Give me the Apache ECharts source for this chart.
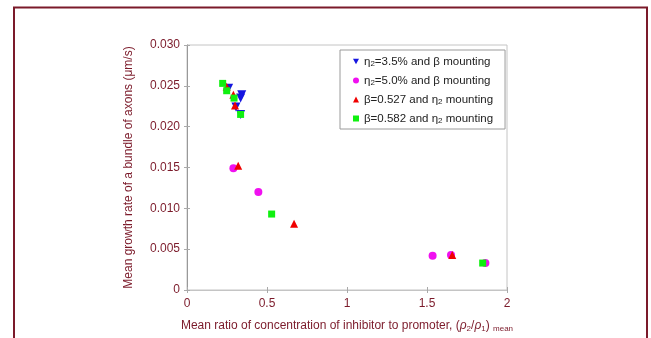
<!DOCTYPE html>
<html>
<head>
<meta charset="utf-8">
<script src="https://cdn.jsdelivr.net/npm/echarts@6/dist/echarts.min.js"></script>
<style>
  html, body { margin: 0; padding: 0; background: #fff; }
  #chart { width: 651px; height: 338px; }
</style>
</head>
<body>
<div id="chart"></div>
<script>
// values: [ratio, growth rate]
var eta35 = [[0.26, 0.0247], [0.342, 0.0239], [0.335, 0.0235], [0.306, 0.0224], [0.335, 0.0215]];
var eta50 = [[0.29, 0.0149], [0.446, 0.0120], [1.535, 0.0042], [1.65, 0.0043], [1.865, 0.0033]];
var beta527 = [[0.248, 0.0249], [0.29, 0.0239], [0.30, 0.0226], [0.32, 0.0152], [0.669, 0.0081], [1.658, 0.0043]];
var beta582 = [[0.223, 0.0253], [0.248, 0.0244], [0.294, 0.0235], [0.335, 0.0215], [0.529, 0.0093], [1.848, 0.0033]];

var seriesNames = ['eta35', 'eta50', 'beta527', 'beta582'];
var legendText = {
  eta35: '{t|η}{s|2}{t|=3.5% and β mounting}',
  eta50: '{t|η}{s|2}{t|=5.0% and β mounting}',
  beta527: '{t|β=0.527 and η}{s|2}{t| mounting}',
  beta582: '{t|β=0.582 and η}{s|2}{t| mounting}'
};

var red = '#7b1a2a';
var font = 'Liberation Sans, Arial, sans-serif';
var downTri = 'path://M0,0 L10,0 L5,9 Z';

var chart = echarts.init(document.getElementById('chart'));

var sc = function (name, data, symbol, color, size) {
  return {
    name: name, type: 'scatter', data: data,
    symbol: symbol, symbolSize: size,
    itemStyle: { color: color, opacity: 1 },
    xAxisIndex: 0, yAxisIndex: 0
  };
};

chart.setOption({
  animation: false,
  graphic: [{
    type: 'rect', shape: { x: 14, y: 7.5, width: 633, height: 340 },
    style: { fill: 'none', stroke: red, lineWidth: 2 }
  }],
  grid: { left: 187, right: 144, top: 45, bottom: 43, show: true, borderColor: '#c4c4c4', borderWidth: 1 },
  legend: {
    data: seriesNames,
    orient: 'vertical', left: 340, top: 50,
    padding: [5, 12, 4, 13],
    itemWidth: 6, itemHeight: 6, itemGap: 6,
    borderColor: '#9a9a9a', borderWidth: 1,
    formatter: function (n) { return legendText[n]; },
    textStyle: {
      rich: {
        t: { fontFamily: font, fontSize: 11.5, color: '#222', lineHeight: 13 },
        s: { fontFamily: font, fontSize: 8, color: '#222', lineHeight: 10, padding: [5, 0, 0, 0] }
      }
    }
  },
  xAxis: [{
    type: 'value', min: 0, max: 2, interval: 0.5,
    name: 'Mean ratio of concentration of inhibitor to promoter, ({i|ρ}{s|2}/{i|ρ}{s|1}) {s|mean}',
    nameLocation: 'middle', nameGap: 29,
    nameTextStyle: {
      color: red, fontFamily: font, fontSize: 12,
      rich: {
        i: { color: red, fontFamily: font, fontSize: 12, fontStyle: 'italic' },
        s: { color: red, fontFamily: font, fontSize: 8, padding: [6, 0, 0, 0] }
      }
    },
    axisLine: { show: true, lineStyle: { color: '#c4c4c4' } },
    axisTick: { show: true, inside: true, length: 3, lineStyle: { color: '#aaa' } },
    axisLabel: { color: red, fontFamily: font, fontSize: 12, margin: 8,
      formatter: function (v) { return String(v); } },
    splitLine: { show: false }
  }, {
    type: 'value', min: 0, max: 2, interval: 0.5, position: 'top',
    axisLine: { show: false }, axisLabel: { show: false }, splitLine: { show: false },
    axisTick: { show: true, inside: true, length: 3, lineStyle: { color: '#aaa' } }
  }],
  yAxis: [{
    type: 'value', min: 0, max: 0.03, interval: 0.005,
    name: 'Mean growth rate of a bundle of axons (μm/s)',
    nameLocation: 'middle', nameGap: 52,
    nameTextStyle: { color: red, fontFamily: font, fontSize: 12 },
    axisLine: { show: true, lineStyle: { color: '#c4c4c4' } },
    axisTick: { show: true, inside: true, length: 3, lineStyle: { color: '#aaa' } },
    axisLabel: { color: red, fontFamily: font, fontSize: 12, margin: 7,
      formatter: function (v) { return v === 0 ? '0' : v.toFixed(3); } },
    splitLine: { show: false }
  }, {
    type: 'value', min: 0, max: 0.03, interval: 0.005, position: 'right',
    axisLine: { show: true, lineStyle: { color: '#999' } },
    axisLabel: { show: false }, splitLine: { show: false },
    axisTick: { show: true, inside: true, length: 3, lineStyle: { color: '#aaa' } }
  }],
  series: [
    sc('eta35', eta35, downTri, '#1515e0', 9),
    sc('eta50', eta50, 'circle', '#f010f0', 8),
    sc('beta527', beta527, 'triangle', '#f00000', 8),
    sc('beta582', beta582, 'rect', '#10f010', 7)
  ]
});
</script>
</body>
</html>
